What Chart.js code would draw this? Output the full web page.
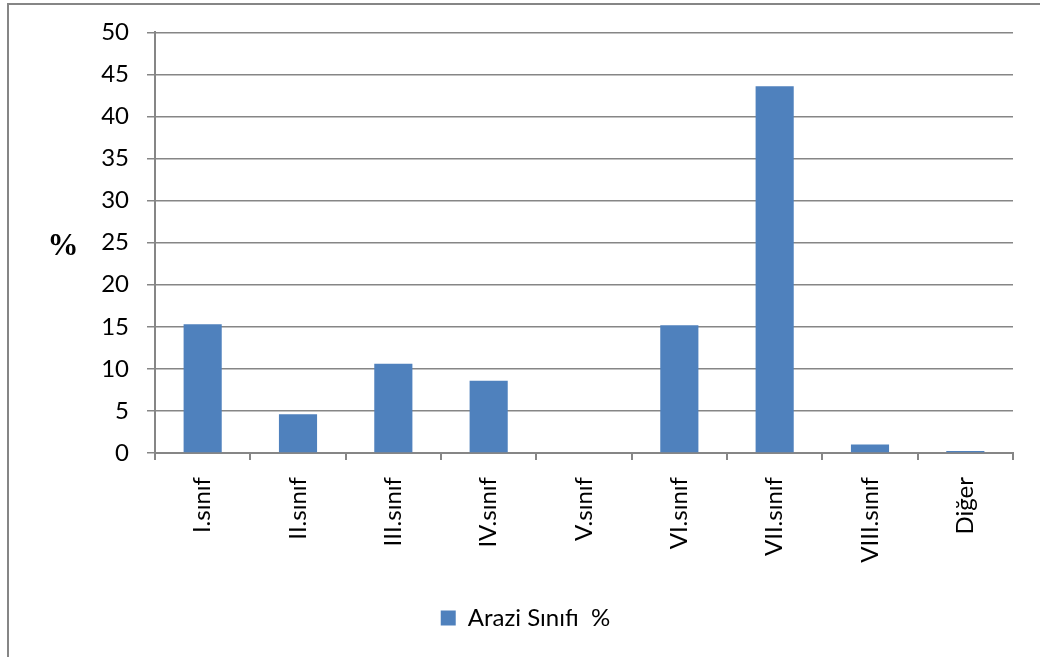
<!DOCTYPE html>
<html>
<head>
<meta charset="utf-8">
<script src="https://cdn.jsdelivr.net/npm/chart.js@4/dist/chart.umd.min.js"></script>
<style>
  html, body { margin: 0; padding: 0; background: #fff; }
  #wrap { width: 1040px; height: 657px; }
</style>
</head>
<body>
<div id="wrap"><canvas id="grafik" width="1040" height="657"></canvas></div>
<script>
// veri
const siniflar = ['I.sınıf', 'II.sınıf', 'III.sınıf', 'IV.sınıf', 'V.sınıf', 'VI.sınıf', 'VII.sınıf', 'VIII.sınıf', 'Diğer'];
const yuzdeler = [15.3, 4.6, 10.6, 8.6, 0, 15.2, 43.6, 1.0, 0.25];
const seriAdi = 'Arazi Sınıfı  %';
const yEksenMin = 0, yEksenMax = 50, yAdim = 5;

const gri = '#868686';
const mavi = '#4f81bd';
const yazi = "'Lato', 'Open Sans', sans-serif";

// cerceve, "%" etiketi ve lejant kaydirma
const cercevePlugin = {
  id: 'cerceve',
  afterLayout(chart) {
    // lejant orijinalde tuvalin ortasina yakin
    if (chart.legend) {
      chart.legend.left += 19;
      chart.legend.right += 19;
    }
  },
  beforeDraw(chart) {
    const ctx = chart.ctx;
    ctx.save();
    ctx.fillStyle = '#fff';
    ctx.fillRect(0, 0, chart.width, chart.height);
    ctx.strokeStyle = gri;
    ctx.lineWidth = 2;
    ctx.beginPath();
    ctx.moveTo(8, chart.height);
    ctx.lineTo(8, 4);
    ctx.lineTo(chart.width, 4);
    ctx.stroke();
    ctx.restore();
  },
  afterDraw(chart) {
    const ctx = chart.ctx;
    ctx.save();
    ctx.fillStyle = '#000';
    ctx.font = "bold 31px 'Liberation Serif', serif";
    ctx.textAlign = 'center';
    ctx.textBaseline = 'middle';
    ctx.fillText('%', 63, 247);
    ctx.restore();
  }
};

new Chart(document.getElementById('grafik'), {
  type: 'bar',
  data: {
    labels: siniflar,
    datasets: [{
      label: seriAdi,
      data: yuzdeler,
      backgroundColor: mavi,
      borderWidth: 0,
      barPercentage: 0.4,
      categoryPercentage: 1
    }]
  },
  options: {
    responsive: false,
    animation: false,
    layout: { padding: { top: 25, right: 27, bottom: 17, left: 0 } },
    scales: {
      x: {
        grid: { drawOnChartArea: false, drawTicks: true, tickLength: 7, color: gri, lineWidth: 2 },
        border: { color: gri, width: 2 },
        ticks: {
          color: '#000',
          font: { family: yazi, size: 24 },
          minRotation: 90,
          maxRotation: 90,
          padding: 17,
          autoSkip: false
        },
        afterFit(scale) { scale.height = 145; }
      },
      y: {
        min: yEksenMin,
        max: yEksenMax,
        grid: { color: gri, lineWidth: 1.5, tickLength: 8 },
        border: { color: gri, width: 2 },
        ticks: {
          stepSize: yAdim,
          color: '#000',
          font: { family: yazi, size: 24 },
          padding: 18
        },
        afterFit(scale) { scale.width = 155; }
      }
    },
    plugins: {
      legend: {
        position: 'bottom',
        labels: {
          color: '#000',
          font: { family: yazi, size: 24 },
          boxWidth: 15,
          boxHeight: 15,
          padding: 8
        }
      },
      tooltip: { enabled: false }
    }
  },
  plugins: [cercevePlugin]
});
</script>
</body>
</html>
